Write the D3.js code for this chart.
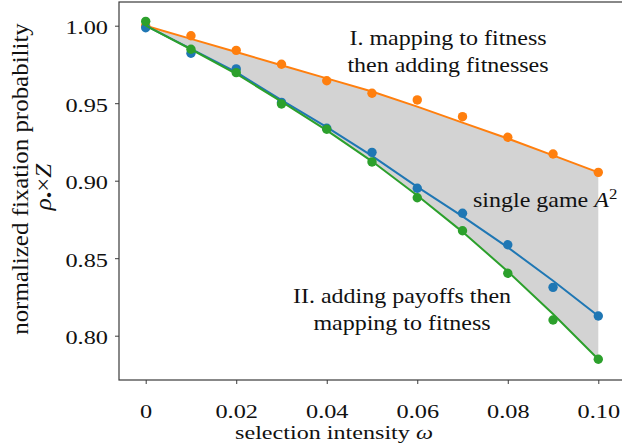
<!DOCTYPE html>
<html>
<head>
<meta charset="utf-8">
<script src="https://cdn.jsdelivr.net/npm/d3@7"></script>
</head>
<body style="margin:0;background:#fff">
<svg width="622" height="445"></svg>
<script>
// selection intensity values
const omega = [0, 0.01, 0.02, 0.03, 0.04, 0.05, 0.06, 0.07, 0.08, 0.09, 0.10];

// simulated points
const orangePts = [1.000, 0.9935, 0.9841, 0.9751, 0.9645, 0.9564, 0.9521, 0.9413, 0.9280, 0.9172, 0.9054];
const bluePts   = [0.9987, 0.9822, 0.9721, 0.9505, 0.9338, 0.9183, 0.8951, 0.8790, 0.8587, 0.8312, 0.8127];
const greenPts  = [1.0028, 0.9848, 0.9697, 0.9495, 0.9332, 0.9121, 0.8890, 0.8677, 0.8403, 0.8101, 0.7848];

// theory curves
const orangeLine = [1.000, 0.9915, 0.9830, 0.9745, 0.9660, 0.9575, 0.9478, 0.9375, 0.9272, 0.9163, 0.9054];
const blueLine   = [1.000, 0.9850, 0.9700, 0.9520, 0.9345, 0.9160, 0.8960, 0.8770, 0.8570, 0.8355, 0.8127];
const greenLine  = [1.000, 0.9848, 0.9690, 0.9510, 0.9325, 0.9125, 0.8905, 0.8670, 0.8415, 0.8140, 0.7848];

const xTicks = [0, 0.02, 0.04, 0.06, 0.08, 0.10];
const xTickLabels = ['0', '0.02', '0.04', '0.06', '0.08', '0.10'];
const yTicks = [0.80, 0.85, 0.90, 0.95, 1.00];

const FONT = 'Liberation Serif';
const SX = 1.2;      // the figure's serif type is wider than Times
const TICK_SX = 1.28;

const svg = d3.select('svg');
const frame = {left: 119, right: 626, top: 2, bottom: 380};

const x = d3.scaleLinear().domain([0, 0.1]).range([145.7, 598.3]);
const y = d3.scaleLinear().domain([0.8, 1.0]).range([335.7, 25.7]);

const colors = {orange: '#ff7f0e', blue: '#1f77b4', green: '#2ca02c'};

// shaded region between curve I and lowest curve II
const area = d3.area()
    .x((d, i) => x(omega[i]))
    .y0((d, i) => y(greenLine[i]))
    .y1((d, i) => y(orangeLine[i]));

svg.append('path')
    .datum(omega)
    .attr('d', area)
    .attr('fill', '#d3d3d3');

const line = d3.line()
    .x(d => x(d[0]))
    .y(d => y(d[1]));

const series = [
  {c: colors.orange, ln: orangeLine, pts: orangePts},
  {c: colors.blue, ln: blueLine, pts: bluePts},
  {c: colors.green, ln: greenLine, pts: greenPts}
];

series.forEach(s => {
  svg.append('path')
      .datum(omega.map((w, i) => [w, s.ln[i]]))
      .attr('d', line)
      .attr('fill', 'none')
      .attr('stroke', s.c)
      .attr('stroke-width', 2);

  svg.append('g')
      .selectAll('circle')
      .data(omega.map((w, i) => [w, s.pts[i]]))
      .enter().append('circle')
      .attr('cx', d => x(d[0]))
      .attr('cy', d => y(d[1]))
      .attr('r', 4.7)
      .attr('fill', s.c);
});

// frame
svg.append('rect')
    .attr('x', frame.left)
    .attr('y', frame.top)
    .attr('width', frame.right - frame.left)
    .attr('height', frame.bottom - frame.top)
    .attr('fill', 'none')
    .attr('stroke', '#3a3a3a')
    .attr('stroke-width', 1.2);

// x axis
const xAxis = d3.axisBottom(x)
    .tickValues(xTicks)
    .tickFormat((d, i) => xTickLabels[i])
    .tickSize(4);

const gx = svg.append('g')
    .attr('transform', 'translate(0,' + frame.bottom + ')')
    .call(xAxis);
gx.select('.domain').remove();
gx.selectAll('line').attr('stroke', '#3a3a3a');
gx.selectAll('text')
    .attr('y', 38)
    .attr('dy', 0)
    .attr('transform', 'scale(' + TICK_SX + ',1)')
    .attr('fill', '#111')
    .attr('font-family', FONT)
    .attr('font-size', 19);

// y axis
const yAxis = d3.axisLeft(y)
    .tickValues(yTicks)
    .tickFormat(d3.format('.2f'))
    .tickSize(4);

const gy = svg.append('g')
    .attr('transform', 'translate(' + frame.left + ',0)')
    .call(yAxis);
gy.select('.domain').remove();
gy.selectAll('line').attr('stroke', '#3a3a3a');
gy.selectAll('text')
    .attr('x', 0)
    .attr('dy', 8)
    .attr('transform', 'translate(-11,0) scale(' + TICK_SX + ',1)')
    .attr('fill', '#111')
    .attr('font-family', FONT)
    .attr('font-size', 19);

// text placed at (x0,y0), optionally rotated, stretched along its baseline
function label(x0, y0, size, anchor, rot, sx) {
  return svg.append('text')
      .attr('transform', 'translate(' + x0 + ',' + y0 + ') rotate(' + (rot || 0) + ') scale(' + (sx || SX) + ',1)')
      .attr('font-family', FONT)
      .attr('font-size', size)
      .attr('fill', '#111')
      .attr('text-anchor', anchor);
}

// axis labels
const xl = label(334, 439, 19, 'middle', 0, 1.27);
xl.append('tspan').text('selection intensity ');
xl.append('tspan').attr('font-style', 'italic').text('ω');

label(28, 179, 23, 'middle', -90, 1.085)
    .text('normalized fixation probability');

const yl = label(51, 187, 23, 'middle', -90, 1.085);
yl.append('tspan').attr('font-style', 'italic').text('ρ');
yl.append('tspan').attr('dy', 4).attr('font-size', 17).text('•');
yl.append('tspan').attr('dy', -4).text('×');
yl.append('tspan').attr('font-style', 'italic').text('Z');

// annotations
function note(lines, cx, baselines) {
  lines.forEach((t, i) => {
    label(cx, baselines[i], 20, 'middle').text(t);
  });
}
note(['I. mapping to fitness', 'then adding fitnesses'], 448, [45, 72]);
note(['II. adding payoffs then', 'mapping to fitness'], 402, [303, 330]);

const sg = label(473, 207, 20, 'start');
sg.append('tspan').text('single game ');
sg.append('tspan').attr('font-style', 'italic').text('A');
sg.append('tspan').attr('dy', -8).attr('font-size', 14).text('2');
</script>
</body>
</html>
